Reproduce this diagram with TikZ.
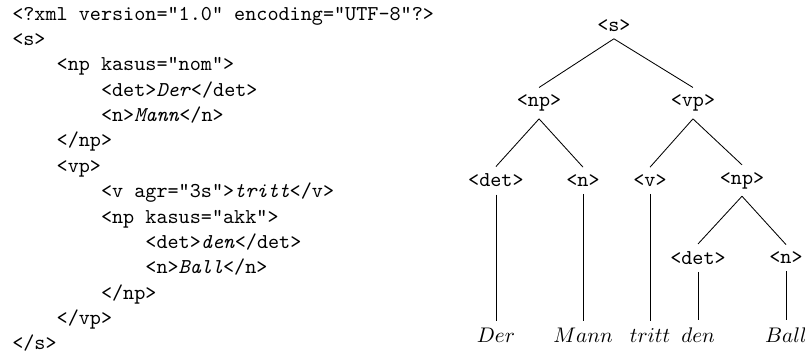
\documentclass[tikz,border=0pt]{standalone}
\usetikzlibrary{positioning}

\begin{document}
\begin{tikzpicture}[x=1pt, y=1pt,
    codeline/.style={anchor=base west, inner sep=0pt, font=\ttfamily},
    tag/.style={font=\ttfamily},
    word/.style={}]
  \useasboundingbox (0,0) rectangle (380.8,-167);

  % xml source
  \begin{scope}[shift={(5.6,-9.5)}, local bounding box=xmlcode]
    \node[codeline] (line1)  at (0,0)    {<?xml version="1.0" encoding="UTF-8"?>};
    \node[codeline] (line2)  at (0,-12)  {<s>};
    \node[codeline] (line3)  at (21,-24) {<np kasus="nom">};
    \node[codeline] (line4)  at (42,-36) {<det>\textit{Der}</det>};
    \node[codeline] (line5)  at (42,-48) {<n>\textit{Mann}</n>};
    \node[codeline] (line6)  at (21,-60) {</np>};
    \node[codeline] (line7)  at (21,-72) {<vp>};
    \node[codeline] (line8)  at (42,-84) {<v agr="3s">\textit{tritt}</v>};
    \node[codeline] (line9)  at (42,-96) {<np kasus="akk">};
    \node[codeline] (line10) at (63,-108) {<det>\textit{den}</det>};
    \node[codeline] (line11) at (63,-120) {<n>\textit{Ball}</n>};
    \node[codeline] (line12) at (42,-132) {</np>};
    \node[codeline] (line13) at (21,-144) {</vp>};
    \node[codeline] (line14) at (0,-156) {</s>};
  \end{scope}

  % tree
  \begin{scope}[local bounding box=tree]
    \node[tag] (s)    at (290.4,-12)   {<s>};
    \node[tag] (np)   at (255.0,-48.8) {<np>};
    \node[tag] (vp)   at (327.8,-48.8) {<vp>};
    \node[tag] (det)  at (234.6,-85.4) {<det>};
    \node[tag] (n)    at (275.8,-85.4) {<n>};
    \node[tag] (v)    at (307.5,-85.4) {<v>};
    \node[tag] (npb)  at (351.0,-85.4) {<np>};
    \node[tag] (detb) at (330.2,-122)  {<det>};
    \node[tag] (nb)   at (371.8,-122)  {<n>};
    \node[word] (der)   at (234.6,-158.6) {$Der$};
    \node[word] (mann)  at (275.8,-158.6) {$Mann$};
    \node[word] (tritt) at (307.5,-158.6) {$tritt$};
    \node[word] (den)   at (330.2,-158.6) {$den$};
    \node[word] (ball)  at (371.8,-158.6) {$Ball$};

    \draw (s.south) -- (np.north);
    \draw (s.south) -- (vp.north);
    \draw (np.south) -- (det.north);
    \draw (np.south) -- (n.north);
    \draw (vp.south) -- (v.north);
    \draw (vp.south) -- (npb.north);
    \draw (npb.south) -- (detb.north);
    \draw (npb.south) -- (nb.north);
    \draw (det.south) -- (der.north);
    \draw (n.south) -- (mann.north);
    \draw (v.south) -- (tritt.north);
    \draw (detb.south) -- (den.north);
    \draw (nb.south) -- (ball.north);
  \end{scope}
\end{tikzpicture}
\end{document}
